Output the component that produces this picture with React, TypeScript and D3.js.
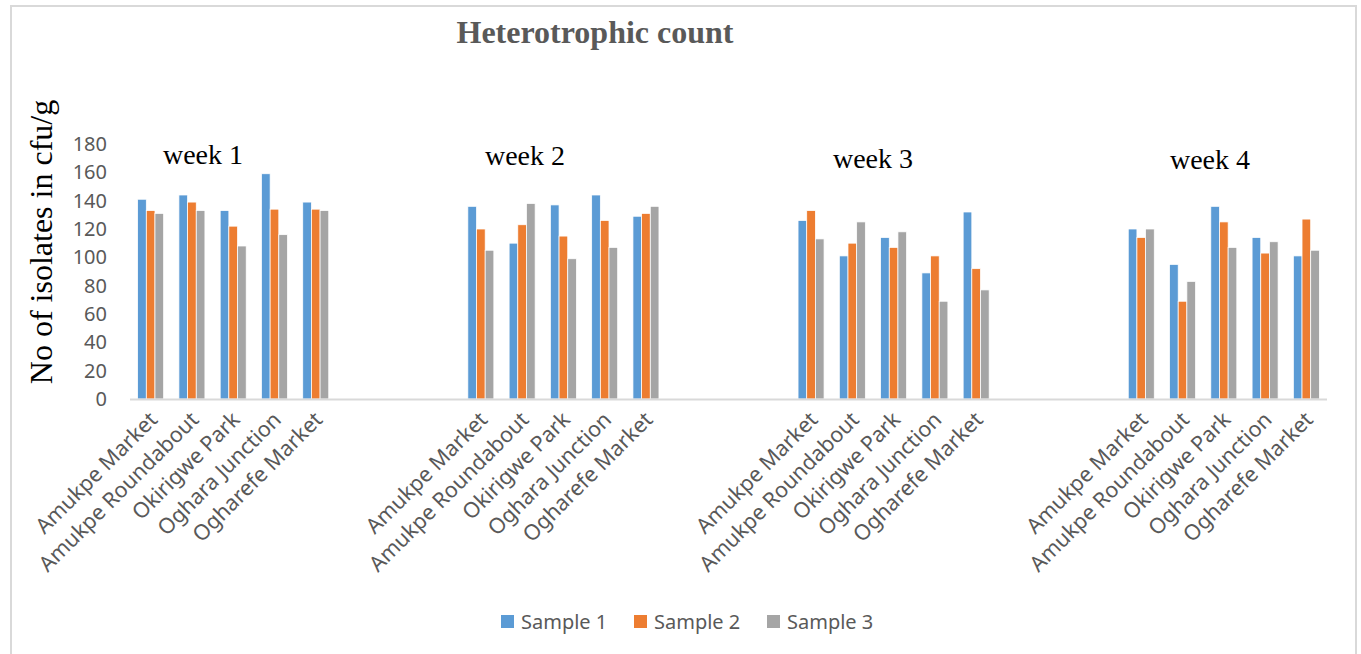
import React from "react";
import * as d3 from "d3";

const locations = ["Amukpe Market", "Amukpe Roundabout", "Okirigwe Park", "Oghara Junction", "Ogharefe Market"];
const weeks = ["week 1", "week 2", "week 3", "week 4"];
const seriesNames = ["Sample 1", "Sample 2", "Sample 3"];
const seriesColors = ["#5B9BD5", "#ED7D31", "#A5A5A5"];
// values per week, in location order
const sample1 = [141, 144, 133, 159, 139, 136, 110, 137, 144, 129, 126, 101, 114, 89, 132, 120, 95, 136, 114, 101];
const sample2 = [133, 139, 122, 134, 134, 120, 123, 115, 126, 131, 133, 110, 107, 101, 92, 114, 69, 125, 103, 127];
const sample3 = [131, 133, 108, 116, 133, 105, 138, 99, 107, 136, 113, 125, 118, 69, 77, 120, 83, 107, 111, 105];
const yTicks = [0, 20, 40, 60, 80, 100, 120, 140, 160, 180];
const blanksBetweenWeeks = 3;

const W = 1361;
const H = 654;

export default function App() {
  // build category slots: 5 locations per week, 3 empty slots between weeks
  const slots: { key: string; label: string; week: number; idx: number }[] = [];
  weeks.forEach((w, wi) => {
    locations.forEach((loc, li) => slots.push({ key: `w${wi}-${li}`, label: loc, week: wi, idx: wi * locations.length + li }));
    if (wi < weeks.length - 1) {
      for (let b = 0; b < blanksBetweenWeeks; b++) slots.push({ key: `b${wi}-${b}`, label: "", week: wi, idx: -1 });
    }
  });
  const series = [sample1, sample2, sample3];

  const x0 = d3
    .scaleBand<string>()
    .domain(slots.map((s) => s.key))
    .range([130, 1327])
    .paddingInner(0.37)
    .paddingOuter(0.185);
  const x1 = d3.scaleBand<number>().domain([0, 1, 2]).range([0, x0.bandwidth()]);
  const y = d3.scaleLinear().domain([0, 180]).range([399, 144]);

  const sans = "'Noto Sans', 'Open Sans', sans-serif";
  const serif = "'Liberation Serif', 'DejaVu Serif', serif";

  const weekLabelPos = [
    { x: 203, y: 164 },
    { x: 525, y: 165 },
    { x: 873, y: 168 },
    { x: 1210, y: 169 },
  ];

  return (
    <svg width={W} height={H} style={{ position: "absolute", left: 0, top: 0, background: "#fff" }}>
      <rect x={0} y={0} width={W} height={H} fill="#fff" />
      <path d={`M11,${H + 2} V6 H1356 V${H + 2}`} fill="none" stroke="#D9D9D9" strokeWidth={2} />
      <text x={595} y={43} textAnchor="middle" fontFamily={serif} fontWeight="bold" fontSize={32} fill="#595959">
        Heterotrophic count
      </text>
      <text
        transform={`translate(52,242) rotate(-90)`}
        textAnchor="middle"
        fontFamily={serif}
        fontSize={32}
        fill="#000"
      >
        No of isolates in cfu/g
      </text>
      {yTicks.map((t) => (
        <text key={t} x={107} y={y(t)} dy="0.35em" textAnchor="end" fontFamily={sans} fontSize={20} fill="#595959">
          {t}
        </text>
      ))}
      {slots
        .filter((s) => s.idx >= 0)
        .map((s) => (
          <g key={s.key} transform={`translate(${x0(s.key)},0)`}>
            {series.map((vals, si) => (
              <rect
                key={si}
                x={x1(si)}
                y={y(vals[s.idx])}
                width={x1.bandwidth()}
                height={y(0) - y(vals[s.idx])}
                fill={seriesColors[si]}
                stroke="#fff"
                strokeWidth={0.75}
              />
            ))}
          </g>
        ))}
      <line x1={130} x2={1327} y1={399.5} y2={399.5} stroke="#D9D9D9" strokeWidth={2} />
      {slots
        .filter((s) => s.idx >= 0)
        .map((s) => {
          const cx = (x0(s.key) as number) + x0.bandwidth() / 2;
          return (
            <text
              key={"l" + s.key}
              transform={`translate(${cx + 8},421) rotate(-45)`}
              textAnchor="end"
              fontFamily={sans}
              fontSize={21.5}
              fill="#595959"
            >
              {s.label}
            </text>
          );
        })}
      {weeks.map((w, i) => (
        <text key={w} x={weekLabelPos[i].x} y={weekLabelPos[i].y} textAnchor="middle" fontFamily={serif} fontSize={28} fill="#000">
          {w}
        </text>
      ))}
      {seriesNames.map((n, i) => (
        <g key={n} transform={`translate(${501 + i * 133},615)`}>
          <rect x={0} y={0} width={13} height={13} fill={seriesColors[i]} />
          <text x={20} y={6.5} dy="0.36em" fontFamily={sans} fontSize={20} fill="#595959">
            {n}
          </text>
        </g>
      ))}
    </svg>
  );
}
